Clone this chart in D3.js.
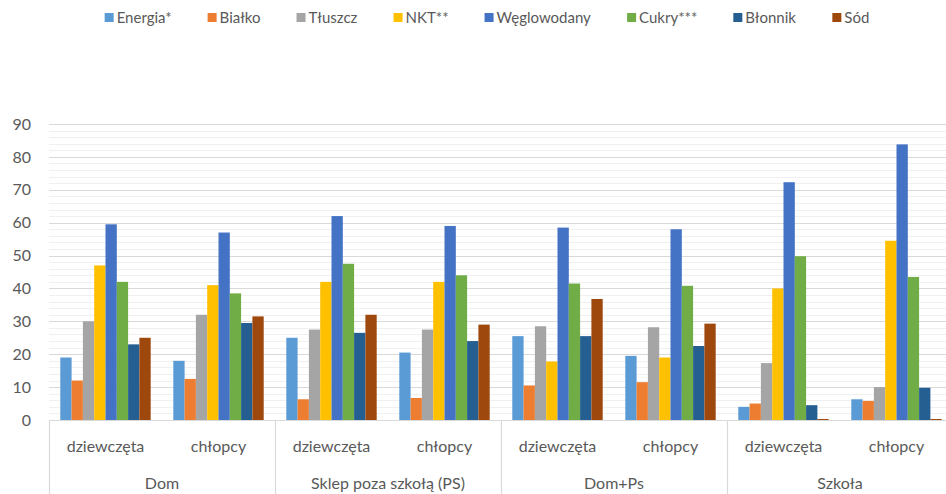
<!DOCTYPE html>
<html>
<head>
<meta charset="utf-8">
<script src="https://cdn.jsdelivr.net/npm/d3@7"></script>
<style>
	body { margin: 0; background: #fff; }
	svg { display: block; font-family: Lato, "Open Sans", sans-serif; }
</style>
</head>
<body>
<svg id="chart" width="946" height="494"></svg>
<script>
// data
const series = ["Energia*", "Białko", "Tłuszcz", "NKT**", "Węglowodany", "Cukry***", "Błonnik", "Sód"];
const groups = ["Dom", "Sklep poza szkołą (PS)", "Dom+Ps", "Szkoła"];
const subgroups = ["dziewczęta", "chłopcy"];
const yTicks = [0, 10, 20, 30, 40, 50, 60, 70, 80, 90];

// one array per bar cluster, series order as above
const domDz = [19, 12, 30, 47, 59.5, 42, 23, 25];
const domCh = [18, 12.5, 32, 41, 57, 38.5, 29.5, 31.5];
const sklepDz = [25, 6.3, 27.5, 42, 62, 47.5, 26.5, 32];
const sklepCh = [20.5, 6.7, 27.5, 42, 59, 44, 24, 29];
const domPsDz = [25.5, 10.5, 28.5, 17.8, 58.5, 41.5, 25.5, 36.8];
const domPsCh = [19.5, 11.5, 28.2, 19, 58, 40.8, 22.5, 29.3];
const szkolaDz = [4, 5, 17.3, 40, 72.3, 49.8, 4.5, 0.3];
const szkolaCh = [6.3, 5.8, 10, 54.5, 83.8, 43.5, 9.8, 0.3];

const colors = ["#5B9BD5", "#ED7D31", "#A5A5A5", "#FFC000", "#4472C4", "#70AD47", "#255E91", "#9E480E"];

let clusters = [
	{ group: groups[0], sub: subgroups[0], values: domDz },
	{ group: groups[0], sub: subgroups[1], values: domCh },
	{ group: groups[1], sub: subgroups[0], values: sklepDz },
	{ group: groups[1], sub: subgroups[1], values: sklepCh },
	{ group: groups[2], sub: subgroups[0], values: domPsDz },
	{ group: groups[2], sub: subgroups[1], values: domPsCh },
	{ group: groups[3], sub: subgroups[0], values: szkolaDz },
	{ group: groups[3], sub: subgroups[1], values: szkolaCh }
];

let svg = d3.select("#chart");
let textColor = "#595959";

// plot area
let plotLeft = 49, plotRight = 953, plotTop = 124, plotBottom = 420;

// scales
let x0 = d3.scaleBand().domain(groups).range([plotLeft, plotRight]);
let x1 = d3.scaleBand().domain(subgroups).range([0, x0.bandwidth()]);
let x2 = d3.scaleBand().domain(series).range([0, x1.bandwidth()]).paddingOuter(1.0).paddingInner(0);
let y = d3.scaleLinear().domain([0, 90]).range([plotBottom, plotTop]);
let color = d3.scaleOrdinal().domain(series).range(colors);

// minor gridlines (faint)
svg.append("g").selectAll("line")
	.data(d3.range(0, 90, 2).filter(function(v) { return v % 10 !== 0; }))
	.enter().append("line")
	.attr("x1", plotLeft).attr("x2", plotRight)
	.attr("y1", function(d) { return Math.round(y(d)) + 0.5; })
	.attr("y2", function(d) { return Math.round(y(d)) + 0.5; })
	.attr("stroke", "#f0f0f0").attr("stroke-width", 1);

// major gridlines
svg.append("g").selectAll("line")
	.data(yTicks.slice(1))
	.enter().append("line")
	.attr("x1", plotLeft).attr("x2", plotRight)
	.attr("y1", function(d) { return Math.round(y(d)) + 0.5; })
	.attr("y2", function(d) { return Math.round(y(d)) + 0.5; })
	.attr("stroke", "#d9d9d9").attr("stroke-width", 1.2);

// y axis labels
let yAxis = d3.axisLeft(y).tickValues(yTicks).tickSize(0).tickPadding(0);
let yG = svg.append("g").attr("transform", "translate(31,0)").call(yAxis);
yG.select(".domain").remove();
yG.selectAll("text").attr("fill", textColor).style("font-size", "16px").style("font-family", "Lato, 'Open Sans', sans-serif");

// bars
let clusterG = svg.append("g").selectAll("g")
	.data(clusters)
	.enter().append("g")
	.attr("transform", function(d) { return "translate(" + (x0(d.group) + x1(d.sub)) + ",0)"; });

clusterG.selectAll("rect")
	.data(function(d) { return d.values.map(function(v, i) { return { name: series[i], value: v }; }); })
	.enter().append("rect")
	.attr("x", function(d) { return x2(d.name); })
	.attr("width", x2.bandwidth())
	.attr("y", function(d) { return y(d.value); })
	.attr("height", function(d) { return y(0) - y(d.value); })
	.attr("fill", function(d) { return color(d.name); });

// baseline
svg.append("line")
	.attr("x1", plotLeft).attr("x2", plotRight)
	.attr("y1", plotBottom + 0.5).attr("y2", plotBottom + 0.5)
	.attr("stroke", "#d9d9d9").attr("stroke-width", 1.2);

// category separators
let sepX = groups.map(function(g) { return x0(g); }).concat([plotRight]);
svg.append("g").selectAll("line")
	.data(sepX)
	.enter().append("line")
	.attr("x1", function(d) { return Math.round(d) + 0.5; })
	.attr("x2", function(d) { return Math.round(d) + 0.5; })
	.attr("y1", plotBottom).attr("y2", 494)
	.attr("stroke", "#d9d9d9").attr("stroke-width", 1.2);

// subgroup labels
clusterG.append("text")
	.attr("x", x1.bandwidth() / 2)
	.attr("y", 452)
	.attr("text-anchor", "middle")
	.attr("fill", textColor)
	.style("font-size", "16px")
	.text(function(d) { return d.sub; });

// group labels
svg.append("g").selectAll("text")
	.data(groups)
	.enter().append("text")
	.attr("x", function(d) { return x0(d) + x0.bandwidth() / 2; })
	.attr("y", 489)
	.attr("text-anchor", "middle")
	.attr("fill", textColor)
	.style("font-size", "16px")
	.text(function(d) { return d; });

// legend
let legend = svg.append("g").attr("class", "legend");
let items = legend.selectAll("g").data(series).enter().append("g");
items.append("rect")
	.attr("width", 9).attr("height", 9)
	.attr("y", 13)
	.attr("fill", function(d) { return color(d); });
items.append("text")
	.attr("x", 12).attr("y", 23)
	.attr("fill", textColor)
	.style("font-size", "15px")
	.text(function(d) { return d; });

let pos = 0;
let gap = 36;
items.each(function() {
	let w = this.getBBox().width;
	d3.select(this).attr("transform", "translate(" + pos + ",0)");
	pos += w + gap;
});
let legendW = pos - gap;
legend.attr("transform", "translate(" + (487 - legendW / 2) + ",0)");
</script>
</body>
</html>
